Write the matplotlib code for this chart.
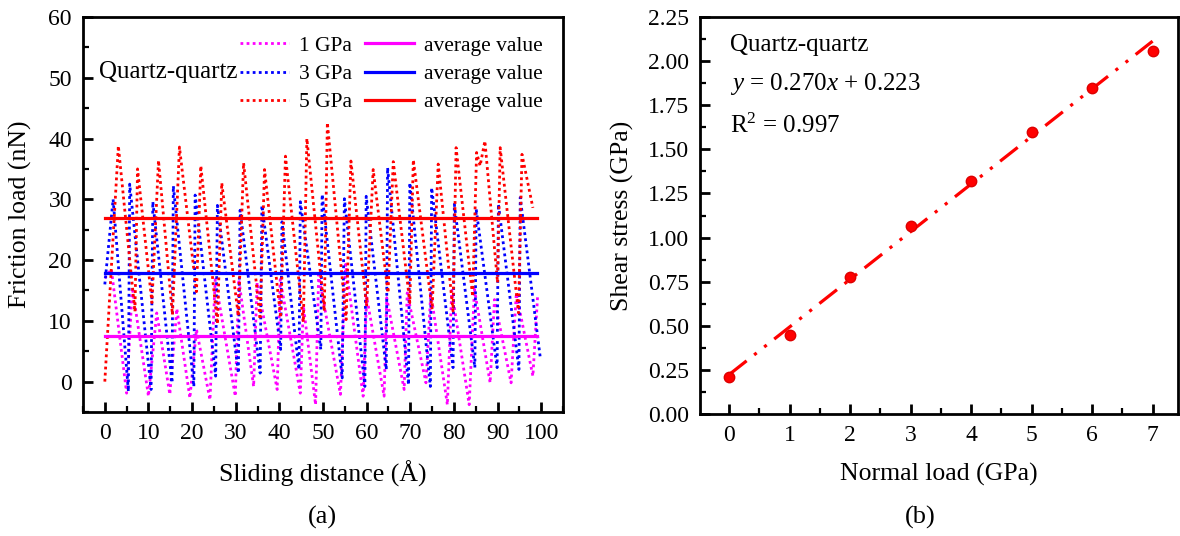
import numpy as np
import matplotlib
matplotlib.use("Agg")
import matplotlib.pyplot as plt
from matplotlib.lines import Line2D
from matplotlib.ticker import MultipleLocator

plt.rcParams['font.family'] = ['Liberation Serif', 'DejaVu Serif']
plt.rcParams['mathtext.fontset'] = 'custom'
plt.rcParams['mathtext.rm'] = 'Liberation Serif'
plt.rcParams['mathtext.it'] = 'Liberation Serif:italic'

# --- (a) friction load vs sliding distance, peaks/troughs ---
x_1gpa = [0, 1.5, 5.0, 6.3, 10.0, 11.9, 14.9, 16.5, 19.5, 21.0, 24.1, 25.3, 29.9, 30.7,
          34.1, 34.9, 39.5, 40.2, 44.8, 45.5, 48.3, 49.0, 54.0, 55.2, 59.2, 60.0, 64.0,
          64.6, 68.6, 69.3, 73.6, 74.7, 78.5, 79.5, 83.5, 84.7, 88.3, 89.3, 93.1, 94.3,
          98.1, 99.2]
y_1gpa = [17.0, 18.5, -1.9, 15.5, -2.4, 11.3, -2.1, 12.0, -2.7, 8.6, -3.0, 16.8, -2.4, 16.8,
          -0.8, 16.3, -1.3, 16.8, -1.9, 12.5, -3.8, 17.6, -2.1, 19.3, -2.4, 14.0, -2.4,
          13.8, -1.3, 14.6, -0.2, 14.6, -3.8, 15.0, -3.8, 15.2, -0.2, 13.5, -0.2, 14.5,
          0.9, 14.3]

x_3gpa = [0, 1.9, 5.4, 5.7, 10.6, 11.0, 15.4, 15.7, 20.4, 20.7, 25.4, 25.8, 30.6, 31.0,
          35.6, 36.0, 40.3, 40.6, 44.5, 44.8, 49.5, 49.8, 54.4, 54.9, 59.6, 59.9, 64.5,
          64.8, 69.6, 69.9, 74.6, 74.9, 79.8, 80.1, 84.8, 85.1, 89.9, 90.2, 94.9, 95.2,
          99.8]
y_3gpa = [16.0, 30.0, -1.6, 32.5, -1.3, 29.6, -0.2, 32.2, -0.8, 30.7, 0.9, 29.0, 1.4, 28.2,
          1.4, 29.0, 5.3, 26.3, 2.0, 29.6, 5.3, 30.8, 0.6, 30.1, -0.8, 30.5, 2.0,
          35.2, -0.5, 32.7, -0.8, 31.9, 2.3, 29.2, 2.3, 28.4, 2.3, 29.2, 2.0, 30.3,
          3.9]

x_5gpa = [0, 3.1, 6.9, 7.5, 10.8, 12.3, 15.5, 17.1, 21.0, 22.0, 25.8, 26.8, 30.6, 31.8,
          35.6, 36.6, 40.3, 41.4, 45.5, 46.3, 50.3, 51.0, 55.3, 56.4, 60.0, 61.5, 64.9,
          66.1, 69.9, 70.7, 75.0, 76.4, 79.8, 80.5, 84.3, 85.2, 86.0, 87.1, 90.0, 90.6,
          94.8, 95.6, 98.1]
y_5gpa = [0.0, 38.8, 11.5, 35.0, 13.0, 36.4, 11.0, 38.6, 14.8, 35.5, 9.5, 32.7, 10.8, 36.0,
          10.2, 34.9, 10.5, 37.1, 9.8, 40.0, 11.6, 42.6, 10.2, 36.3, 12.4, 34.9, 14.6,
          36.2, 13.0, 36.5, 11.9, 35.8, 11.6, 38.5, 14.0, 37.7, 35.5, 39.6, 16.3, 38.5,
          11.3, 37.4, 28.6]

avg_x = [0, 99]
avg_1gpa = 7.5
avg_3gpa = 17.8
avg_5gpa = 26.9

# --- (b) shear stress vs normal load ---
normal_load = [0, 1, 2, 3, 4, 5, 6, 7]
shear_stress = [0.21, 0.45, 0.775, 1.065, 1.32, 1.60, 1.845, 2.06]
slope, intercept = 0.270, 0.223

MAG, BLU, RED = '#FF00FF', '#0000FF', '#FF0000'
dots = (0, (1, 1.2))

fig = plt.figure(figsize=(11.8, 5.36), dpi=100)
ax1 = fig.add_axes([83/1180, 1-412/536, 480/1180, 395/536])
ax2 = fig.add_axes([700/1180, 1-414/536, 478/1180, 397/536])

ax1.plot(x_1gpa, y_1gpa, color=MAG, lw=2.0, ls=dots)
ax1.plot(x_3gpa, y_3gpa, color=BLU, lw=2.0, ls=dots)
ax1.plot(x_5gpa, y_5gpa, color=RED, lw=2.0, ls=dots)
ax1.plot(avg_x, [avg_1gpa]*2, color=MAG, lw=2.3)
ax1.plot(avg_x, [avg_3gpa]*2, color=BLU, lw=2.3)
ax1.plot(avg_x, [avg_5gpa]*2, color=RED, lw=2.3)

handles = [Line2D([], [], color=MAG, lw=2.0, ls=dots),
           Line2D([], [], color=BLU, lw=2.0, ls=dots),
           Line2D([], [], color=RED, lw=2.0, ls=dots),
           Line2D([], [], color=MAG, lw=2.3),
           Line2D([], [], color=BLU, lw=2.3),
           Line2D([], [], color=RED, lw=2.3)]
labels = ['1 GPa', '3 GPa', '5 GPa', 'average value', 'average value', 'average value']
ax1.legend(handles, labels, ncol=2, frameon=False, fontsize=15.5, loc='upper right',
           bbox_to_anchor=(0.985, 0.985), handlelength=2.3, handletextpad=0.45,
           columnspacing=0.6, labelspacing=0.38, borderaxespad=0.2)
ax1.text(0.033, 0.862, 'Quartz-quartz', transform=ax1.transAxes, fontsize=18,
         va='center', ha='left')

ax1.set_xlim(-5, 105)
ax1.set_ylim(-5, 60)
ax1.xaxis.set_major_locator(MultipleLocator(10))
ax1.xaxis.set_minor_locator(MultipleLocator(5))
ax1.yaxis.set_major_locator(MultipleLocator(10))
ax1.yaxis.set_minor_locator(MultipleLocator(5))
ax1.set_xlabel('Sliding distance (Å)', fontsize=18.5, labelpad=12)
ax1.set_ylabel('Friction load (nN)', fontsize=18.5, labelpad=12)

xfit = np.array([0, 7])
ax2.plot(xfit, slope * xfit + intercept, color=RED, lw=2.3,
         ls=(0, (7, 3, 1, 3, 1, 3)))
ax2.plot(normal_load, shear_stress, 'o', color=RED, ms=7.5, mec='#DD0000')
ax2.text(0.063, 0.93, 'Quartz-quartz', transform=ax2.transAxes, fontsize=18,
         va='center', ha='left')
ax2.text(0.063, 0.83, r'$y$ = 0.270$x$ + 0.223', transform=ax2.transAxes, fontsize=18,
         va='center', ha='left')
ax2.text(0.063, 0.727, r'R$^2$ = 0.997', transform=ax2.transAxes, fontsize=18,
         va='center', ha='left')
ax2.set_xlim(-0.48, 7.42)
ax2.set_ylim(0, 2.25)
ax2.xaxis.set_major_locator(MultipleLocator(1))
ax2.xaxis.set_minor_locator(MultipleLocator(0.5))
ax2.yaxis.set_major_locator(MultipleLocator(0.25))
ax2.yaxis.set_minor_locator(MultipleLocator(0.125))
ax2.yaxis.set_major_formatter(plt.FormatStrFormatter('%.2f'))
ax2.set_xlabel('Normal load (GPa)', fontsize=18.5, labelpad=12)
ax2.set_ylabel('Shear stress (GPa)', fontsize=18.5, labelpad=10)

for ax in (ax1, ax2):
    for s in ax.spines.values():
        s.set_linewidth(2.0)
    ax.tick_params(which='major', direction='in', length=7, width=2.0,
                   labelsize=17, pad=8)
    ax.tick_params(which='minor', direction='in', length=4, width=1.6)

fig.text(322/1180, 1-517/536, '(a)', fontsize=19, ha='center', va='center')
fig.text(920/1180, 1-517/536, '(b)', fontsize=19, ha='center', va='center')

fig.savefig('out.png', dpi=100)
